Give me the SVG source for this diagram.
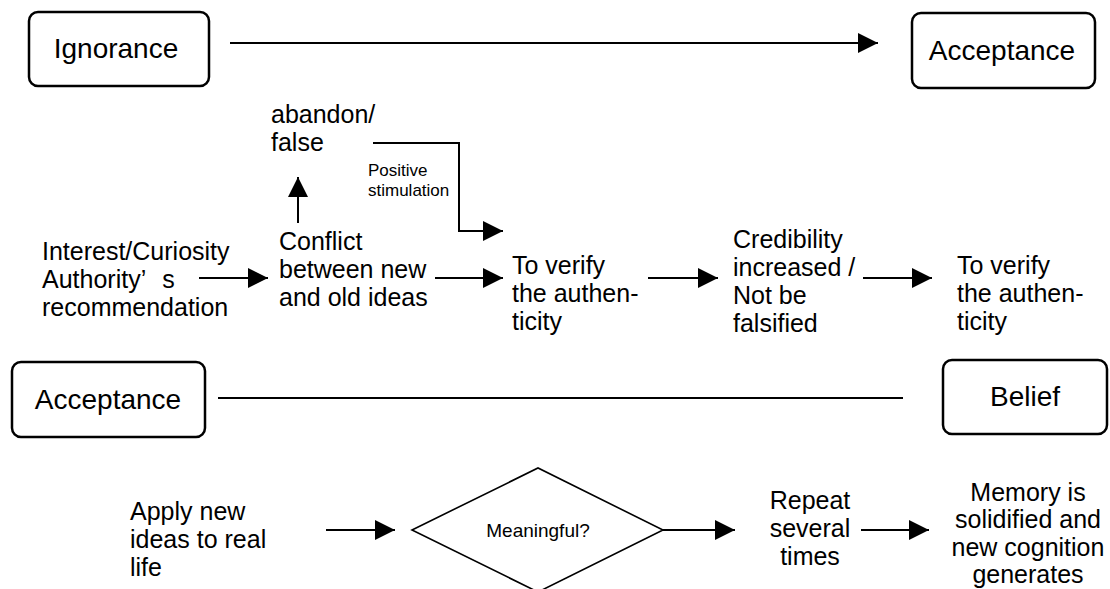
<svg xmlns="http://www.w3.org/2000/svg" width="1110" height="589" viewBox="0 0 1110 589">
<style>
  .box { fill: #fff; stroke: #000; stroke-width: 2.5; }
  .dia { fill: #fff; stroke: #000; stroke-width: 1.6; }
  .lbl { font-family: "Liberation Sans", Arial, sans-serif; font-size: 28px; fill: #000; text-anchor: middle; }
  .t { font-family: "Liberation Sans", Arial, sans-serif; font-size: 25px; fill: #000; }
  .tc { font-family: "Liberation Sans", Arial, sans-serif; font-size: 25px; fill: #000; text-anchor: middle; }
  .s { font-family: "Liberation Sans", Arial, sans-serif; font-size: 17px; fill: #000; }
  .m { font-family: "Liberation Sans", Arial, sans-serif; font-size: 19px; fill: #000; text-anchor: middle; }
  .c { fill: none; stroke: #000; stroke-width: 2; }
  .ca { fill: none; stroke: #000; stroke-width: 2; marker-end: url(#ah); }
</style>
<defs>
  <marker id="ah" markerUnits="userSpaceOnUse" markerWidth="20" markerHeight="20" refX="20" refY="10" orient="auto">
    <path d="M0,0 L20,10 L0,20 Z" fill="#000"/>
  </marker>
</defs>
<rect width="1110" height="589" fill="#fff"/>

<g id="connectors">
  <line class="ca" x1="230" y1="43" x2="878" y2="43"/>
  <line class="ca" x1="298" y1="223" x2="298" y2="177"/>
  <polyline class="ca" points="373,143 459,143 459,231 503,231"/>
  <line class="ca" x1="199" y1="278" x2="268" y2="278"/>
  <line class="ca" x1="435" y1="278" x2="503" y2="278"/>
  <line class="ca" x1="648" y1="278" x2="718" y2="278"/>
  <line class="ca" x1="863" y1="278" x2="932" y2="278"/>
  <line class="c" x1="218" y1="398" x2="903" y2="398"/>
  <line class="ca" x1="326" y1="530" x2="395" y2="530"/>
  <line class="ca" x1="663" y1="530" x2="735" y2="530"/>
  <line class="ca" x1="861" y1="530" x2="929" y2="530"/>
</g>

<g id="ignorance">
  <rect class="box" x="29" y="12" width="180" height="74" rx="9"/>
  <text class="lbl" x="116" y="58">Ignorance</text>
</g>
<g id="acceptance-top">
  <rect class="box" x="912" y="13" width="183" height="75" rx="9"/>
  <text class="lbl" x="1002" y="60">Acceptance</text>
</g>
<g id="abandon">
  <text class="t" x="271" y="123">abandon/</text>
  <text class="t" x="271" y="151">false</text>
</g>
<g id="positive-label">
  <text class="s" x="368" y="176">Positive</text>
  <text class="s" x="368" y="196">stimulation</text>
</g>
<g id="interest">
  <text class="t" x="42" y="260">Interest/Curiosity</text>
  <text class="t" x="42" y="288"><tspan>Authority’ </tspan><tspan dx="10">s</tspan></text>
  <text class="t" x="42" y="316">recommendation</text>
</g>
<g id="conflict">
  <text class="t" x="279" y="250">Conflict</text>
  <text class="t" x="279" y="278">between new</text>
  <text class="t" x="279" y="306">and old ideas</text>
</g>
<g id="verify1">
  <text class="t" x="512" y="274">To verify</text>
  <text class="t" x="512" y="302">the authen-</text>
  <text class="t" x="512" y="330">ticity</text>
</g>
<g id="credibility">
  <text class="t" x="733" y="248">Credibility</text>
  <text class="t" x="733" y="276">increased /</text>
  <text class="t" x="733" y="304">Not be</text>
  <text class="t" x="733" y="332">falsified</text>
</g>
<g id="verify2">
  <text class="t" x="957" y="274">To verify</text>
  <text class="t" x="957" y="302">the authen-</text>
  <text class="t" x="957" y="330">ticity</text>
</g>
<g id="acceptance-bottom">
  <rect class="box" x="12" y="362" width="193" height="75" rx="9"/>
  <text class="lbl" x="108" y="409">Acceptance</text>
</g>
<g id="belief">
  <rect class="box" x="943" y="360" width="164" height="74" rx="9"/>
  <text class="lbl" x="1025" y="406">Belief</text>
</g>
<g id="apply">
  <text class="t" x="130" y="520">Apply new</text>
  <text class="t" x="130" y="548">ideas to real</text>
  <text class="t" x="130" y="576">life</text>
</g>
<g id="meaningful">
  <polygon class="dia" points="412,530 538,468 663,530 538,592"/>
  <text class="m" x="538" y="537">Meaningful?</text>
</g>
<g id="repeat">
  <text class="tc" x="810" y="509">Repeat</text>
  <text class="tc" x="810" y="537">several</text>
  <text class="tc" x="810" y="565">times</text>
</g>
<g id="memory">
  <text class="tc" x="1028" y="501">Memory is</text>
  <text class="tc" x="1028" y="528">solidified and</text>
  <text class="tc" x="1028" y="556">new cognition</text>
  <text class="tc" x="1028" y="583">generates</text>
</g>
</svg>
